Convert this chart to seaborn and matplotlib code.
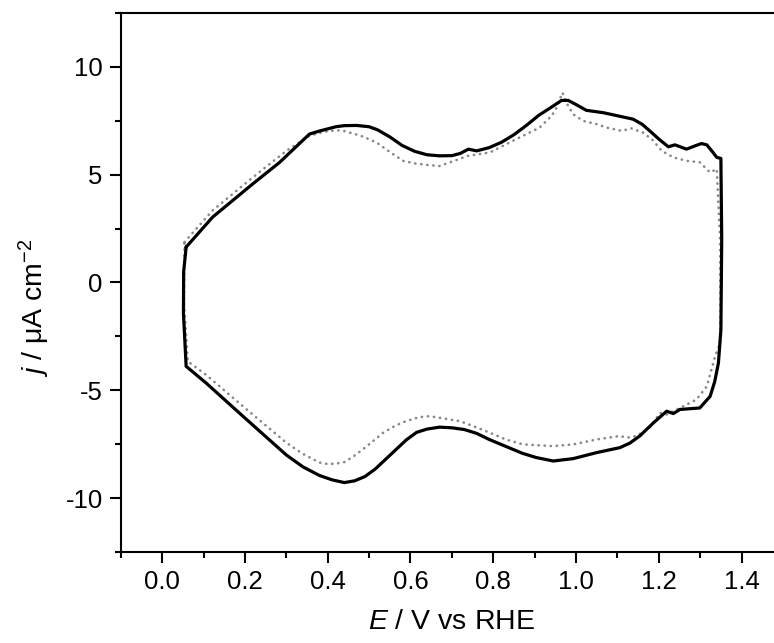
import numpy as np
import pandas as pd
import matplotlib
matplotlib.use("Agg")
import matplotlib.pyplot as plt
from matplotlib.ticker import MultipleLocator
import seaborn as sns

# Cyclic voltammogram, black trace (closed loop: anodic sweep, then cathodic sweep)
e_black = [0.058, 0.122, 0.219, 0.284, 0.356, 0.380, 0.400, 0.420, 0.440, 0.470,
           0.500, 0.520, 0.550, 0.580, 0.610, 0.640, 0.670, 0.700, 0.720, 0.740,
           0.760, 0.790, 0.820, 0.850, 0.880, 0.910, 0.940, 0.965, 0.981, 1.000,
           1.025, 1.066, 1.114, 1.138, 1.160, 1.178, 1.200, 1.223, 1.239, 1.267,
           1.290, 1.303, 1.316, 1.330, 1.340, 1.350, 1.352, 1.350, 1.344, 1.335,
           1.324, 1.299, 1.251, 1.235, 1.219, 1.187, 1.154, 1.130, 1.106, 1.050,
           0.993, 0.945, 0.904, 0.870, 0.830, 0.790, 0.760, 0.730, 0.700, 0.670,
           0.640, 0.615, 0.590, 0.565, 0.540, 0.515, 0.490, 0.465, 0.440, 0.410,
           0.380, 0.340, 0.300, 0.195, 0.106, 0.058, 0.0515, 0.052, 0.058]
j_black = [1.64, 3.03, 4.57, 5.57, 6.88, 7.02, 7.12, 7.22, 7.27, 7.28,
           7.22, 7.08, 6.75, 6.35, 6.08, 5.92, 5.87, 5.88, 5.98, 6.18,
           6.10, 6.25, 6.50, 6.85, 7.28, 7.75, 8.12, 8.44, 8.44, 8.25,
           7.98, 7.87, 7.67, 7.57, 7.33, 7.03, 6.65, 6.29, 6.38, 6.18,
           6.35, 6.44, 6.38, 6.05, 5.80, 5.75, 2.00, -2.20, -3.74, -4.60,
           -5.28, -5.82, -5.89, -6.08, -5.97, -6.51, -7.12, -7.45, -7.66, -7.89,
           -8.17, -8.28, -8.12, -7.92, -7.60, -7.28, -7.00, -6.82, -6.74, -6.71,
           -6.80, -6.95, -7.30, -7.75, -8.20, -8.65, -9.00, -9.20, -9.28, -9.15,
           -8.95, -8.55, -8.00, -6.20, -4.66, -3.89, -1.43, 0.50, 1.64]

# Grey dotted trace
e_grey = [0.054, 0.122, 0.219, 0.300, 0.356, 0.390, 0.421, 0.440, 0.480, 0.518,
          0.550, 0.582, 0.610, 0.640, 0.670, 0.703, 0.739, 0.792, 0.856, 0.912,
          0.941, 0.953, 0.967, 0.979, 0.993, 1.017, 1.050, 1.074, 1.110, 1.134,
          1.162, 1.187, 1.207, 1.235, 1.267, 1.299, 1.324, 1.340, 1.348, 1.349,
          1.348, 1.336, 1.316, 1.291, 1.251, 1.219, 1.203, 1.178, 1.146, 1.122,
          1.106, 1.050, 0.993, 0.945, 0.872, 0.830, 0.792, 0.750, 0.719, 0.671,
          0.646, 0.620, 0.582, 0.558, 0.534, 0.510, 0.485, 0.460, 0.440, 0.421,
          0.400, 0.380, 0.340, 0.300, 0.195, 0.106, 0.062, 0.053, 0.054]
j_grey = [1.87, 3.34, 4.87, 6.10, 6.80, 6.98, 7.06, 7.02, 6.80, 6.49,
          6.05, 5.64, 5.52, 5.45, 5.40, 5.62, 5.87, 6.03, 6.65, 7.18,
          7.72, 8.10, 8.80, 8.26, 7.80, 7.49, 7.34, 7.18, 7.03, 7.14,
          6.95, 6.57, 6.10, 5.80, 5.64, 5.57, 5.10, 5.26, 2.00, -1.50,
          -2.82, -3.43, -4.82, -5.43, -5.82, -6.12, -6.05, -6.74, -7.12, -7.20,
          -7.12, -7.28, -7.51, -7.59, -7.51, -7.28, -6.97, -6.65, -6.43, -6.28,
          -6.20, -6.25, -6.48, -6.70, -6.97, -7.35, -7.74, -8.10, -8.33, -8.40,
          -8.42, -8.35, -7.95, -7.43, -5.74, -4.28, -3.66, -1.00, 1.87]

x_ticks = [0.0, 0.2, 0.4, 0.6, 0.8, 1.0, 1.2, 1.4]
y_ticks = [-10, -5, 0, 5, 10]

df_black = pd.DataFrame({"E": e_black, "j": j_black})
df_grey = pd.DataFrame({"E": e_grey, "j": j_grey})

sns.set_style("ticks")
plt.rcParams["font.family"] = ["Liberation Sans", "DejaVu Sans"]
plt.rcParams["mathtext.fontset"] = "custom"
plt.rcParams["mathtext.rm"] = "Liberation Sans"
plt.rcParams["mathtext.it"] = "Liberation Sans:italic"
plt.rcParams["mathtext.default"] = "regular"
for key in ["text.color", "axes.labelcolor", "xtick.color", "ytick.color",
            "axes.edgecolor"]:
    plt.rcParams[key] = "black"

fig = plt.figure(figsize=(7.74, 6.43), dpi=100)
ax = fig.add_axes([0.156, 0.1415, 0.8556, 0.8385])

sns.lineplot(data=df_grey, x="E", y="j", sort=False, estimator=None, ax=ax,
             color="#888888", linestyle=(0, (0.1, 2.2)), linewidth=1.9,
             dash_capstyle="round")
sns.lineplot(data=df_black, x="E", y="j", sort=False, estimator=None, ax=ax,
             color="black", linewidth=2.3)

ax.set_xlim(-0.1, 1.5)
ax.set_ylim(-12.5, 12.5)
ax.set_xticks(x_ticks)
ax.set_xticklabels([f"{v:.1f}" for v in x_ticks])
ax.set_yticks(y_ticks)
ax.set_yticklabels([str(v) for v in y_ticks])
ax.xaxis.set_minor_locator(MultipleLocator(0.1))
ax.yaxis.set_minor_locator(MultipleLocator(2.5))

for s in ax.spines.values():
    s.set_linewidth(1.5)

ax.tick_params(which="major", direction="out", length=8, width=1.5,
               labelsize=18.5, pad=5)
ax.tick_params(which="minor", direction="out", length=4.5, width=1.5)
ax.tick_params(top=False, right=False, which="both")

ax.set_xlabel(r"$\it{E}$ / V vs RHE", fontsize=20.5)
ax.set_ylabel(r"$\it{j}$ / $\mu$A cm$^{-2}$", fontsize=20.5)
ax.xaxis.set_label_coords(0.5, -0.105)
ax.yaxis.set_label_coords(-0.104, 0.453)

fig.savefig("out.png", dpi=100)
